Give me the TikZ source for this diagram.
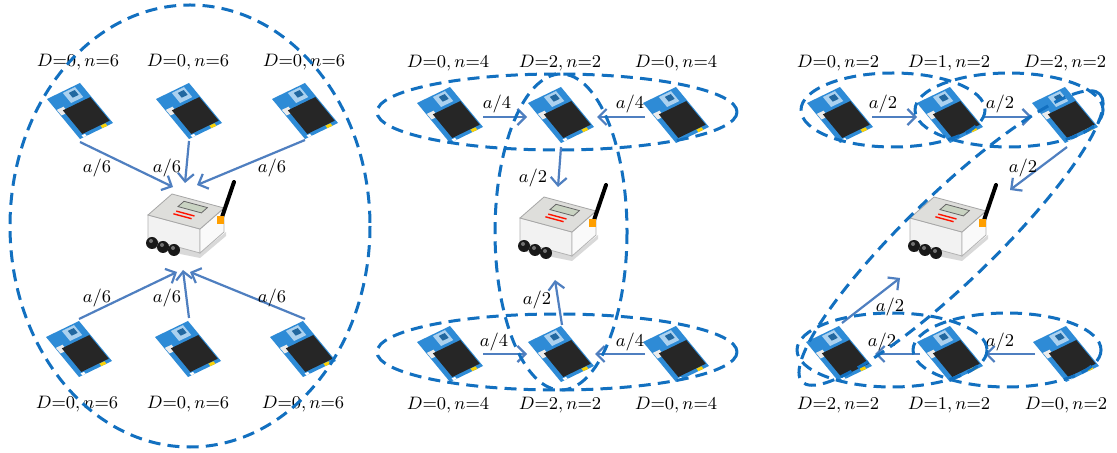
\documentclass[tikz,border=0pt]{standalone}
\usetikzlibrary{arrows.meta,calc}
\definecolor{ellblue}{HTML}{1270C0}
\definecolor{arrblue}{HTML}{4F7FC0}
\definecolor{boardblue}{HTML}{2E8BD6}
\definecolor{chipblack}{HTML}{262626}
\definecolor{lidgray}{HTML}{DEDEDB}
\definecolor{lcd}{HTML}{C9D3C2}
\tikzset{
  grp/.style={draw=ellblue, line width=1.5pt, dash pattern=on 6pt off 3.6pt},
  arr/.style={draw=arrblue, line width=1.1pt, -{Straight Barb[length=4pt,width=8pt]}},
  lab/.style={font=\fontsize{9}{10}\selectfont, inner sep=0pt},
  sensnode/.style={minimum width=32pt, minimum height=29pt, inner sep=0pt},
  gwnode/.style={minimum width=42pt, minimum height=36pt, inner sep=0pt},
  sensor/.pic={
    \begin{scope}[x={(16.5pt,8pt)},y={(16.5pt,-20pt)}]
      \fill[boardblue] (-0.5,-0.5) -- (0.5,-0.5) -- (0.5,0.5) -- (-0.5,0.5) -- cycle;
      \fill[boardblue!40!white] (-0.05,-0.47) -- (0.32,-0.47) -- (0.32,-0.22) -- (-0.05,-0.22) -- cycle;
      \fill[boardblue!75!black] (0.08,-0.42) -- (0.26,-0.42) -- (0.26,-0.3) -- (0.08,-0.3) -- cycle;
      \fill[white!85!gray] (-0.48,-0.22) -- (-0.28,-0.22) -- (-0.28,-0.08) -- (-0.48,-0.08) -- cycle;
      \fill[chipblack] (-0.36,-0.16) -- (0.47,-0.16) -- (0.47,0.43) -- (-0.36,0.43) -- cycle;
      \fill[yellow!70!orange] (0.18,0.44) -- (0.33,0.44) -- (0.33,0.5) -- (0.18,0.5) -- cycle;
      \fill[white] (-0.4,0.45) -- (-0.3,0.45) -- (-0.3,0.5) -- (-0.4,0.5) -- cycle;
    \end{scope}
  },
  gateway/.pic={
    \fill[black!15] (-40,20) -- (10,30) -- (36,8) -- (36,4) -- (10,25) -- (-42,11) -- cycle;
    \filldraw[fill=black!5, draw=black!30, line width=0.4pt] (-42,-13) -- (10,1) -- (10,25) -- (-42,11) -- cycle;
    \filldraw[fill=black!2, draw=black!30, line width=0.4pt] (10,1) -- (34,-20) -- (34,4) -- (10,25) -- cycle;
    \filldraw[fill=lidgray, draw=black!35, line width=0.4pt] (-42,-13) -- (-18,-34) -- (34,-20) -- (10,1) -- cycle;
    \filldraw[fill=lcd, draw=black!60, line width=0.4pt] (-12,-21.4) -- (11.4,-15.1) -- (17.4,-20.4) -- (-6,-26.7) -- cycle;
    \draw[red!85!orange, line width=0.7pt] (-13.7,-16.9) -- (4.5,-12);
    \draw[red!85!orange, line width=0.7pt] (-16.6,-14.2) -- (1.6,-9.3);
    \fill[black!90] (-38,15) circle[radius=6];
    \fill[black!90] (-27,19) circle[radius=6];
    \fill[black!90] (-16,22) circle[radius=6];
    \fill[black!55] (-39,13) circle[radius=2];
    \fill[black!55] (-28,17) circle[radius=2];
    \fill[black!55] (-17,20) circle[radius=2];
    \draw[black, line width=2pt, line cap=round] (31,-8) -- (44,-46);
    \fill[orange!75!yellow] (27,-12) rectangle (34,-4);
  }
}
\begin{document}
\begin{tikzpicture}[x=0.5pt,y=-0.5pt]
\useasboundingbox (0,0) rectangle (1117,453);
\fill[white] (0,0) rectangle (1117,453);

% ---------------- panel 1 ----------------
\node[sensnode] (a1) at (80,111) {};
\node[sensnode] (a2) at (189,111) {};
\node[sensnode] (a3) at (305,111) {};
\node[sensnode] (a4) at (79,349) {};
\node[sensnode] (a5) at (188,349) {};
\node[sensnode] (a6) at (303,349) {};
\node[gwnode] (g1) at (190,228) {};
\foreach \n in {a1,a2,a3,a4,a5,a6} {\pic at (\n) {sensor};}
\pic at (g1) {gateway};
\node[lab] (la1) at (78,62) {$D{=}0,n{=}6$};
\node[lab] (la2) at (188,62) {$D{=}0,n{=}6$};
\node[lab] (la3) at (304,62) {$D{=}0,n{=}6$};
\node[lab] (la4) at (77,404) {$D{=}0,n{=}6$};
\node[lab] (la5) at (188,404) {$D{=}0,n{=}6$};
\node[lab] (la6) at (303,404) {$D{=}0,n{=}6$};
\draw[arr] ($(a1)+(0,31)$) -- ($(g1)+(-17,-41)$);
\draw[arr] ($(a2)+(0,30)$) -- ($(g1)+(-5,-45)$);
\draw[arr] ($(a3)+(0,29)$) -- ($(g1)+(7,-43)$);
\draw[arr] ($(a4)+(0,-30)$) -- ($(g1)+(-13,44)$);
\draw[arr] ($(a5)+(1,-31)$) -- ($(g1)+(-7,42)$);
\draw[arr] ($(a6)+(2,-30)$) -- ($(g1)+(0,44)$);
\node[lab] (e1) at (97,168) {$a/6$};
\node[lab] (e2) at (167,168) {$a/6$};
\node[lab] (e3) at (272,168) {$a/6$};
\node[lab] (e4) at (97,298) {$a/6$};
\node[lab] (e5) at (167,298) {$a/6$};
\node[lab] (e6) at (272,298) {$a/6$};
\draw[grp] (190,226) ellipse [x radius=180, y radius=221];

% ---------------- panel 2 ----------------
\node[sensnode] (b1) at (450,115) {};
\node[sensnode] (b2) at (561,115) {};
\node[sensnode] (b3) at (676,115) {};
\node[sensnode] (b4) at (450,354) {};
\node[sensnode] (b5) at (561,354) {};
\node[sensnode] (b6) at (676,354) {};
\node[gwnode] (g2) at (562,231) {};
\foreach \n in {b1,b2,b3,b4,b5,b6} {\pic at (\n) {sensor};}
\pic at (g2) {gateway};
\node[lab] (lb1) at (448,63) {$D{=}0,n{=}4$};
\node[lab] (lb2) at (560,63) {$D{=}2,n{=}2$};
\node[lab] (lb3) at (676,63) {$D{=}0,n{=}4$};
\node[lab] (lb4) at (448,405) {$D{=}0,n{=}4$};
\node[lab] (lb5) at (560,405) {$D{=}2,n{=}2$};
\node[lab] (lb6) at (676,405) {$D{=}0,n{=}4$};
\draw[arr] ($(b1)+(33,2)$) -- ($(b2)+(-34,2)$);
\draw[arr] ($(b3)+(-31,2)$) -- ($(b2)+(36,2)$);
\draw[arr] ($(b2)+(0,32)$) -- ($(g2)+(-4,-44)$);
\draw[arr] ($(b4)+(33,0)$) -- ($(b5)+(-34,0)$);
\draw[arr] ($(b6)+(-31,0)$) -- ($(b5)+(34,0)$);
\draw[arr] ($(b5)+(1,-29)$) -- ($(g2)+(-7,49)$);
\node[lab] (f1) at (497,104) {$a/4$};
\node[lab] (f2) at (630,104) {$a/4$};
\node[lab] (f3) at (533,178) {$a/2$};
\node[lab] (f4) at (494,342) {$a/4$};
\node[lab] (f5) at (630,342) {$a/4$};
\node[lab] (f6) at (537,300) {$a/2$};
\draw[grp] (557,112) ellipse [x radius=180, y radius=38];
\draw[grp] (557,352) ellipse [x radius=180, y radius=38];
\draw[grp] (561,232) ellipse [x radius=66, y radius=158];

% ---------------- panel 3 ----------------
\node[sensnode] (c1) at (840,115) {};
\node[sensnode] (c2) at (950,115) {};
\node[sensnode] (c3) at (1065,115) {};
\node[sensnode] (c4) at (839,354) {};
\node[sensnode] (c5) at (950,354) {};
\node[sensnode] (c6) at (1066,354) {};
\node[gwnode] (g3) at (952,231) {};
\foreach \n in {c1,c2,c3,c4,c5,c6} {\pic at (\n) {sensor};}
\pic at (g3) {gateway};
\node[lab] (lc1) at (838,63) {$D{=}0,n{=}2$};
\node[lab] (lc2) at (949,63) {$D{=}1,n{=}2$};
\node[lab] (lc3) at (1065,63) {$D{=}2,n{=}2$};
\node[lab] (lc4) at (838,405) {$D{=}2,n{=}2$};
\node[lab] (lc5) at (949,405) {$D{=}1,n{=}2$};
\node[lab] (lc6) at (1066,405) {$D{=}0,n{=}2$};
\draw[arr] ($(c1)+(32,2)$) -- ($(c2)+(-33,2)$);
\draw[arr] ($(c2)+(33,2)$) -- ($(c3)+(-33,2)$);
\draw[arr] ($(c3)+(2,32)$) -- ($(g3)+(58,-41)$);
\draw[arr] ($(c6)+(-31,0)$) -- ($(c5)+(35,0)$);
\draw[arr] ($(c5)+(-30,0)$) -- ($(c4)+(36,0)$);
\draw[arr] ($(c4)+(3,-31)$) -- ($(g3)+(-52,47)$);
\node[lab] (h1) at (883,104) {$a/2$};
\node[lab] (h2) at (1000,104) {$a/2$};
\node[lab] (h3) at (1023,168) {$a/2$};
\node[lab] (h4) at (1000,342) {$a/2$};
\node[lab] (h5) at (882,342) {$a/2$};
\node[lab] (h6) at (890,307) {$a/2$};
\draw[grp] (893,110) ellipse [x radius=92, y radius=37];
\draw[grp] (1009,110) ellipse [x radius=94, y radius=37];
\draw[grp] (892,350) ellipse [x radius=95, y radius=37];
\draw[grp] (1007,350) ellipse [x radius=94, y radius=37];
\draw[grp, rotate around={44:(951,238)}] (951,238) ellipse [x radius=207, y radius=44];
\end{tikzpicture}
\end{document}
